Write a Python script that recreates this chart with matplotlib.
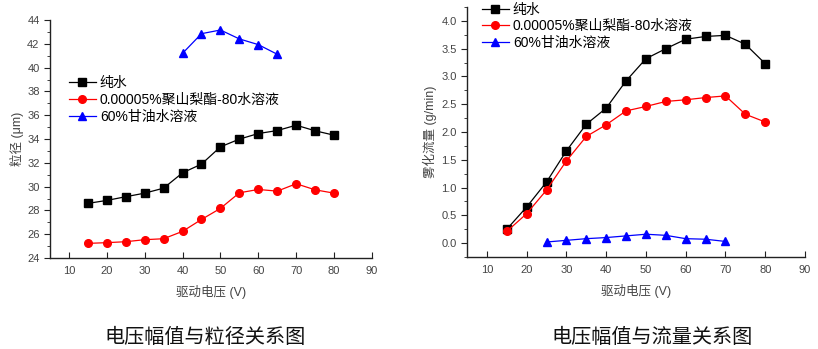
import matplotlib
matplotlib.use("Agg")
import matplotlib.pyplot as plt
from matplotlib.ticker import MultipleLocator, FormatStrFormatter

plt.rcParams['font.family'] = ['Liberation Sans', 'Noto Sans CJK SC', 'DejaVu Sans']

# drive voltage (V)
volt = [15, 20, 25, 30, 35, 40, 45, 50, 55, 60, 65, 70, 75, 80]

# droplet size (um)
size_water = [28.59, 28.84, 29.15, 29.45, 29.87, 31.16, 31.89, 33.34, 33.99, 34.46, 34.71, 35.16, 34.69, 34.32]
size_tween = [25.23, 25.29, 25.37, 25.54, 25.62, 26.24, 27.24, 28.17, 29.48, 29.76, 29.62, 30.24, 29.73, 29.45]
volt_glyc_size = [40, 45, 50, 55, 60, 65]
size_glyc = [41.20, 42.85, 43.16, 42.41, 41.93, 41.12]

# atomization flow (g/min)
flow_water = [0.25, 0.65, 1.10, 1.66, 2.14, 2.43, 2.92, 3.32, 3.50, 3.67, 3.72, 3.74, 3.58, 3.23]
flow_tween = [0.21, 0.53, 0.955, 1.48, 1.92, 2.13, 2.38, 2.46, 2.55, 2.58, 2.62, 2.65, 2.32, 2.18]
volt_glyc_flow = [25, 30, 35, 40, 45, 50, 55, 60, 65, 70]
flow_glyc = [0.02, 0.05, 0.08, 0.10, 0.13, 0.16, 0.14, 0.08, 0.07, 0.03]

labels = ["纯水", "0.00005%聚山梨酯-80水溶液", "60%甘油水溶液"]
xticks = [10, 20, 30, 40, 50, 60, 70, 80, 90]

TXT = "#444444"

fig = plt.figure(figsize=(8.18, 3.49), dpi=100)
ax1 = fig.add_axes([0.0611, 0.2607, 0.3936, 0.682])
ax2 = fig.add_axes([0.5709, 0.2636, 0.4132, 0.7163])


def style(ax):
    for s in ("top", "right"):
        ax.spines[s].set_visible(False)
    for s in ("left", "bottom"):
        ax.spines[s].set_color("#222222")
        ax.spines[s].set_linewidth(1.0)
    ax.set_xlim(5, 90)
    ax.set_xticks(xticks)
    ax.tick_params(axis="x", direction="in", length=4, labelsize=8, colors="#222222", labelcolor=TXT, pad=6)
    ax.tick_params(axis="y", which="major", direction="out", length=4, labelsize=8, colors="#222222", labelcolor=TXT)
    ax.tick_params(axis="y", which="minor", direction="out", length=2.5, colors="#222222")
    ax.set_xlabel("驱动电压 (V)", fontsize=9, color=TXT, labelpad=6)


def draw(ax, xa, ya, xb, yb, xc, yc):
    ax.plot(xa, ya, color="black", marker="s", ms=5.5, lw=0.9, label=labels[0], clip_on=False)
    ax.plot(xa, yb, color="red", marker="o", ms=5.5, lw=0.9, label=labels[1], clip_on=False)
    ax.plot(xc, yc, color="blue", marker="^", ms=6, lw=0.9, label=labels[2], clip_on=False)


def legend(ax, anchor):
    ax.legend(loc="upper left", bbox_to_anchor=anchor, frameon=False, fontsize=10,
              handlelength=1.9, handletextpad=0.3, labelspacing=0.2, borderaxespad=0,
              borderpad=0)


style(ax1)
draw(ax1, volt, size_water, volt, size_tween, volt_glyc_size, size_glyc)
ax1.set_ylim(24, 44)
ax1.yaxis.set_major_locator(MultipleLocator(2))
ax1.yaxis.set_minor_locator(MultipleLocator(1))
ax1.set_ylabel("粒径 (μm)", fontsize=9, color=TXT, labelpad=2)
legend(ax1, (0.06, 0.765))

style(ax2)
draw(ax2, volt, flow_water, volt, flow_tween, volt_glyc_flow, flow_glyc)
ax2.set_ylim(-0.25, 4.25)
ax2.yaxis.set_major_locator(MultipleLocator(0.5))
ax2.yaxis.set_minor_locator(MultipleLocator(0.25))
ax2.yaxis.set_major_formatter(FormatStrFormatter("%.1f"))
ax2.set_ylabel("雾化流量 (g/min)", fontsize=9, color=TXT, labelpad=3)
legend(ax2, (0.045, 1.018))

fig.text(0.251, 0.006, "电压幅值与粒径关系图", ha="center", va="bottom", fontsize=14.5, color="#111111")
fig.text(0.797, 0.006, "电压幅值与流量关系图", ha="center", va="bottom", fontsize=14.5, color="#111111")

fig.savefig("out.png", dpi=100)
